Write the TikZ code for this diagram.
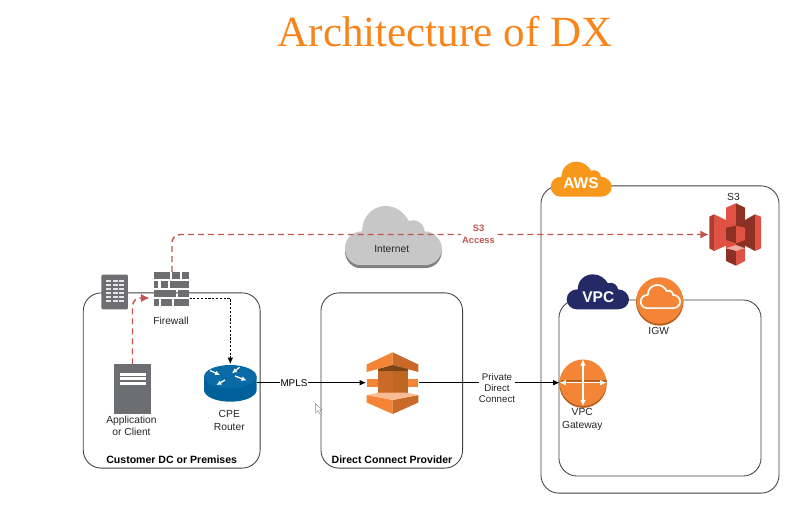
\documentclass[tikz,border=0pt]{standalone}
\usepackage{fontspec}
\setmainfont{Liberation Sans}
\newfontfamily\titlefont{Liberation Serif}
\usepackage{tikz}
\usetikzlibrary{arrows.meta}

\definecolor{titleorange}{HTML}{F9851A}
\definecolor{awsorange}{HTML}{F58536}
\definecolor{awsshade}{HTML}{B5611F}
\definecolor{awsdark}{HTML}{C96A28}
\definecolor{awscloud}{HTML}{F7981D}
\definecolor{vpcblue}{HTML}{232A66}
\definecolor{iconhue}{HTML}{6D6E71}
\definecolor{routerblue}{HTML}{00609A}
\definecolor{routertop}{HTML}{0A6AA6}
\definecolor{linkred}{HTML}{C0574F}
\definecolor{s3light}{HTML}{E05243}
\definecolor{s3dark}{HTML}{8C3123}

\begin{document}
\begin{tikzpicture}[>={Latex[length=4.5pt,width=4pt]},x=0.025cm,y=-0.025cm]
	\tikzstyle{groupbox}=[draw=black!75,line width=0.6pt,rounded corners=0.45cm,inner sep=0pt]
	\tikzstyle{iconbox}=[draw=none,inner sep=0pt]
	\tikzstyle{iconlabel}=[inner sep=0pt,align=center,font=\fontsize{7.3}{8.9}\selectfont,text=black!85]
	\tikzstyle{grouplabel}=[inner sep=0pt,font=\fontsize{7.5}{9}\selectfont\bfseries]
	\tikzstyle{cloudlabel}=[inner sep=0pt,text=white,font=\fontsize{11}{14}\selectfont\bfseries]
	\tikzstyle{redlink}=[draw=linkred,line width=1.05pt,dash pattern=on 4.2pt off 2.9pt,rounded corners=0.2cm,-{Latex[length=6pt,width=6pt,fill=linkred,sep=0pt]}]
	\tikzstyle{blacklink}=[draw=black,line width=0.6pt]
	\tikzstyle{orangecircle}=[circle,fill=awsorange,inner sep=0pt,minimum size=1.16cm]
	\tikzstyle{whitearrow}=[draw=white,line width=0.9pt]

	\newcommand{\CloudShape}[5]{
		\path [#1,shift={(#2,#3)},xscale=#4,yscale=#5] (10,35) .. controls (4,35) and (0,30) .. (0,25) .. controls (0,19) and (5,15) .. (11,15) .. controls (11,6) and (18,0) .. (26,0) .. controls (33,0) and (38,4) .. (41,9) .. controls (46,7) and (51,11) .. (51,15) .. controls (57,15) and (62,20) .. (62,25) .. controls (62,31) and (57,35) .. (51,35) -- cycle;
	}

	\useasboundingbox (0,0) rectangle (792,507);
	\fill [white] (0,0) rectangle (792,507);

	\node (title) [inner sep=0pt,text=titleorange,font=\titlefont\fontsize{30.6}{34}\selectfont] at (445,32) {Architecture of DX};

	\node (customer) [groupbox,minimum width=4.42cm,minimum height=4.38cm] at (171.7,380.5) {};
	\node (provider) [groupbox,minimum width=3.54cm,minimum height=4.38cm] at (391.8,380.5) {};
	\node (aws) [groupbox,minimum width=5.95cm,minimum height=7.68cm] at (660,339.5) {};
	\node (vpc) [groupbox,minimum width=5.05cm,minimum height=4.4cm] at (660,388) {};

	\node (customerlbl) [grouplabel] at (171.7,460) {Customer DC or Premises};
	\node (providerlbl) [grouplabel] at (392,460) {Direct Connect Provider};

	\CloudShape{fill=black!50}{345}{209}{1.56}{1.69}
	\CloudShape{fill=black!22}{345}{206}{1.56}{1.69}
	\node (internet) [iconlabel] at (391.7,249) {Internet};

	\node (building) [iconbox,minimum width=0.65cm,minimum height=0.86cm] at (114.7,292) {};
	\node (firewall) [iconbox,minimum width=0.89cm,minimum height=0.84cm] at (172,289) {};
	\node (client) [iconbox,minimum width=0.89cm,minimum height=1.22cm] at (132.5,389) {};
	\node (router) [iconbox,minimum width=1.31cm,minimum height=0.92cm] at (230.3,382.7) {};
	\node (directconnect) [iconbox,minimum width=1.31cm,minimum height=1.55cm] at (392.5,382.7) {};
	\node (s3) [iconbox,minimum width=1.3cm,minimum height=1.57cm] at (735,234.5) {};
	\coordinate (fwin) at (149.5,298);
	\coordinate (fwout) at (189.5,298.5);

	\fill [awsshade] (659.7,302) circle (23.7);
	\node (igw) [orangecircle] at (659.7,300.5) {};
	\fill [awsshade] (583,384.2) circle (23.7);
	\node (vpcgw) [orangecircle] at (583,382.7) {};

	\draw [redlink] (firewall.north) |- (s3.west);
	\draw [redlink] (client.north) |- (fwin);
	\draw [blacklink,dash pattern=on 1.5pt off 1.2pt,->] (fwout) -| (router.north);
	\draw [blacklink,->] (router.east) -- (directconnect.west) node[pos=0.34,fill=white,inner sep=0.5pt,font=\fontsize{7}{8.9}\selectfont] (mpls) {MPLS};
	\draw [blacklink,->] (directconnect.east) -- (vpcgw.west);

	\node (s3access) [inner sep=1pt,fill=white,align=center,text=linkred,font=\fontsize{6.6}{8.5}\selectfont\bfseries] at (478.5,234) {S3\\Access};
	\node (private) [iconlabel,fill=white,font=\fontsize{6.9}{8}\selectfont] at (497,388) {Private\\Direct\\Connect};

	\fill [iconhue,rounded corners=1pt] (building.north west) rectangle (building.south east);
	\foreach \x in {106,112.5,119} {
		\foreach \y in {280,284,288,292,296,300} {
			\fill [white!90!black] (\x,\y) rectangle ++(5.2,2.4);
		}
	}

	\foreach \x/\w/\y in {154/16/272.3,172/8/272.3,181.7/7.6/272.3,154/4.3/281,160.7/7.6/281,170/19.3/281,154/22/290,177.7/11.6/290,154/5.3/298.7,160.7/11/298.7,174/15.3/298.7} {
		\fill [iconhue] (\x,\y) rectangle ++(\w,7);
	}

	\fill [iconhue] (client.north west) rectangle (client.south east);
	\foreach \y in {372.5,377,381.5} {
		\fill [white] (120,\y) rectangle (145.5,\y+3);
	}
	\node (clientlbl) [iconlabel] at (131.5,426) {Application\\or Client};
	\node (firewalllbl) [iconlabel] at (171,320.7) {Firewall};

	\fill [routerblue] (204,376.7) -- (204,390) arc (180:0:26.3 and 11.7) -- (256.6,376.7) -- cycle;
	\fill [routertop] (230.3,376.7) ellipse (26.3 and 11.7);
	\draw [whitearrow,-{Latex[length=3.5pt,width=3.5pt]}] (210,370.5) -- (220,375);
	\draw [whitearrow,-{Latex[length=3.5pt,width=3.5pt]}] (239.5,367.3) -- (232,373.3);
	\draw [whitearrow,-{Latex[length=3.5pt,width=3.5pt]}] (225,380) -- (216.5,385);
	\draw [whitearrow,-{Latex[length=3.5pt,width=3.5pt]}] (235,376) -- (246.5,380.5);
	\node (routerlbl) [iconlabel] at (229.3,420.4) {CPE\\Router};

	\fill [awsorange] (366.7,364.5) -- (392.7,352.3) -- (392.7,365) -- (366.7,372) -- cycle;
	\fill [awsdark] (392.7,352.3) -- (418.4,364.5) -- (418.4,372) -- (392.7,365) -- cycle;
	\fill [awsshade!70!black] (378,369) -- (392.7,365) -- (408,369) -- (408,372) -- (378,372) -- cycle;
	\fill [awsdark] (378,371) rectangle (392.7,395);
	\fill [awsshade!85!awsorange] (392.7,371) rectangle (408,395);
	\fill [awsorange] (366.7,378.5) rectangle (378,387);
	\fill [awsorange] (408,378.5) rectangle (418.4,387);
	\fill [awsorange] (366.7,395) -- (392.7,400) -- (392.7,414) -- (366.7,402.5) -- cycle;
	\fill [awsdark] (392.7,400) -- (418.4,395) -- (418.4,402.5) -- (392.7,414) -- cycle;
	\fill [awsorange!55!white] (366.7,395) -- (380,392.5) -- (405,392.5) -- (418.4,395) -- (392.7,400) -- cycle;

	\node (s3lbl) [iconlabel] at (733.5,197) {S3};
	\fill [s3dark!60!s3light] (709.3,216.7) -- (714,214.3) -- (714,251) -- (709.3,248.3) -- cycle;
	\fill [s3light] (714,214.3) -- (726,220) -- (726,245.7) -- (714,251) -- cycle;
	\fill [s3light] (726,216) rectangle (736,250);
	\fill [s3dark] (736,216) rectangle (745,250);
	\fill [s3dark] (745,220) -- (755,214.3) -- (755,251) -- (745,245.7) -- cycle;
	\fill [s3light] (755,214.3) -- (761,216.7) -- (761,248.3) -- (755,251) -- cycle;
	\fill [s3light] (726,207.7) -- (736,203.3) -- (736,221.7) -- (726,218.3) -- cycle;
	\fill [s3dark] (736,203.3) -- (745,207.7) -- (745,218.3) -- (736,221.7) -- cycle;
	\fill [s3dark] (726,227.7) -- (736,225.7) -- (736,243.3) -- (726,240) -- cycle;
	\fill [s3light] (736,225.7) -- (745,227.7) -- (745,240) -- (736,243.3) -- cycle;
	\fill [s3dark] (726,248.3) -- (736,250.7) -- (736,265.7) -- (726,261) -- cycle;
	\fill [s3light] (736,250.7) -- (745,248.3) -- (745,261) -- (736,265.7) -- cycle;
	\fill [s3light!50!white] (726,248.3) -- (736,245) -- (745,248.3) -- (736,250.7) -- cycle;

	\CloudShape{fill=awscloud}{550.7}{161.7}{0.984}{1}
	\node (awslbl) [cloudlabel] at (581,183.3) {AWS};
	\CloudShape{fill=vpcblue}{566.7}{274.3}{1.005}{1}
	\node (vpclbl) [cloudlabel] at (598.3,296.7) {VPC};

	\CloudShape{draw=white,line width=1.2pt}{640.7}{285}{0.635}{0.66}
	\node (igwlbl) [iconlabel] at (658.7,331) {IGW};

	\draw [awsshade,line width=0.9pt] (vpcgw.west) ++(1,-1.7) -- ++(46,0);
	\draw [whitearrow,<->] (vpcgw.west) -- (vpcgw.east);
	\draw [whitearrow,<->] (vpcgw.north) -- (vpcgw.south);
	\node (vpcgwlbl) [iconlabel] at (582.3,419.5) {VPC\\Gateway};

	\draw [black!50,line width=0.3pt,fill=white] (315.3,403.5) -- (315.5,413) -- (318,410.7) -- (320,414.3) -- (321.5,413.3) -- (319.7,410) -- (322,409.7) -- cycle;
\end{tikzpicture}
\end{document}
